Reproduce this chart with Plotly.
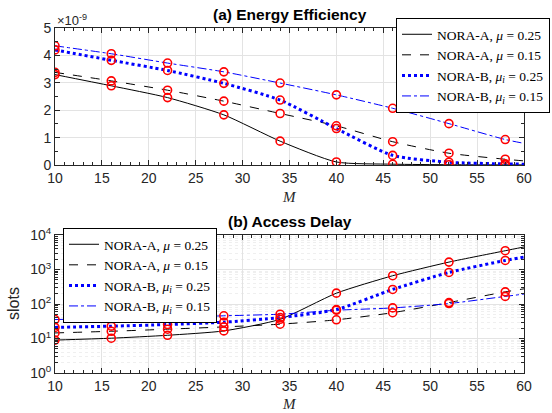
import plotly.graph_objects as go

# ---------------- data ----------------
M_markers = [10, 16, 22, 28, 34, 40, 46, 52, 58]
M_line = [10, 16, 22, 28, 34, 40, 46, 52, 58, 60]

# (a) Energy efficiency (x1e-9)
ee_A_025 = [3.30, 2.89, 2.46, 1.83, 0.87, 0.11, 0.03, 0.01, 0.005, 0.004]
ee_A_015 = [3.38, 3.07, 2.73, 2.33, 1.88, 1.43, 0.85, 0.43, 0.21, 0.15]
ee_B_025 = [4.20, 3.82, 3.45, 2.98, 2.37, 1.33, 0.35, 0.10, 0.04, 0.03]
ee_B_015 = [4.35, 4.06, 3.72, 3.40, 2.99, 2.56, 2.07, 1.51, 0.93, 0.79]

# (b) Access delay (slots)
ad_A_025 = [9.0, 10.2, 12.4, 16.6, 36, 206, 660, 1640, 3500, 4500]
ad_A_015 = [14.5, 16.2, 18.6, 21.7, 26, 34.8, 56, 110, 225, 275]
ad_B_025 = [21, 22.8, 25.4, 29.7, 40.5, 69, 264, 822, 1830, 2300]
ad_B_015 = [35.5, 38, 40.5, 45.5, 50.6, 66, 77, 103, 166, 194]

names = ["NORA-A, <i>μ</i> = 0.25", "NORA-A, <i>μ</i> = 0.15",
         "NORA-B, <i>μ<sub>i</sub></i> = 0.25", "NORA-B, <i>μ<sub>i</sub></i> = 0.15"]
styles = [dict(color="black", width=1, dash="solid"),
          dict(color="black", width=1, dash="dash"),
          dict(color="#0000ff", width=3, dash="dot"),
          dict(color="#0000ff", width=1, dash="dashdot")]

fig = go.Figure()

def add_series(ys_list, xaxis, yaxis, legend):
    for name, ys, st in zip(names, ys_list, styles):
        fig.add_trace(go.Scatter(x=M_line, y=ys, mode="lines", name=name,
                                 line=dict(color=st["color"], width=st["width"],
                                           dash=st["dash"], shape="spline", smoothing=0.6),
                                 xaxis=xaxis, yaxis=yaxis, legend=legend))
    for ys in ys_list:
        fig.add_trace(go.Scatter(x=M_markers, y=ys[:len(M_markers)], mode="markers",
                                 marker=dict(symbol="circle-open", color="red", size=8,
                                             line=dict(width=1.6, color="red")),
                                 showlegend=False, xaxis=xaxis, yaxis=yaxis,
                                 hoverinfo="skip"))

add_series([ee_A_025, ee_A_015, ee_B_025, ee_B_015], "x", "y", "legend")
add_series([ad_A_025, ad_A_015, ad_B_025, ad_B_015], "x2", "y2", "legend2")

W, H = 552, 413
tickfont = dict(family="Liberation Sans, Arial, sans-serif", size=14, color="#262626")
axis_common = dict(showline=True, linecolor="#262626", linewidth=1, mirror="allticks",
                   ticks="inside", ticklen=5, tickcolor="#262626", tickfont=tickfont,
                   gridcolor="#e3e3e3", zeroline=False)

xtop = dict(domain=[55 / W, 524 / W], range=[10, 60], tickvals=list(range(10, 61, 5)),
            minor=dict(ticks="inside", dtick=1, ticklen=3, tickcolor="#262626", showgrid=False),
            anchor="y", **axis_common)
ytop = dict(domain=[1 - 165 / H, 1 - 28 / H], range=[0, 5], tickvals=[0, 1, 2, 3, 4, 5],
            minor=dict(ticks="inside", dtick=0.5, ticklen=3, tickcolor="#262626", showgrid=False),
            anchor="x", **axis_common)
xbot = dict(domain=[55 / W, 524 / W], range=[10, 60], tickvals=list(range(10, 61, 5)),
            minor=dict(ticks="inside", dtick=1, ticklen=3, tickcolor="#262626", showgrid=False),
            anchor="y2", **axis_common)
ybot = dict(domain=[1 - 373 / H, 1 - 235 / H], type="log", range=[0, 4],
            tickvals=[1, 10, 100, 1000, 10000],
            ticktext=["10<sup>0</sup>", "10<sup>1</sup>", "10<sup>2</sup>",
                      "10<sup>3</sup>", "10<sup>4</sup>"],
            minor=dict(ticks="inside", tickvals=[m * 10 ** d for d in range(4) for m in range(2, 10)],
                       ticklen=3, tickcolor="#262626", showgrid=True,
                       gridcolor="#efefef", griddash="dot"),
            anchor="x2", **axis_common)

legend_font = dict(family="Liberation Serif, serif", size=13.5, color="black")
fig.update_layout(
    width=W, height=H, margin=dict(l=0, r=0, t=0, b=0, autoexpand=False),
    paper_bgcolor="white", plot_bgcolor="white",
    xaxis=xtop, yaxis=ytop, xaxis2=xbot, yaxis2=ybot,
    legend=dict(x=550 / W, y=1 - 18 / H, xanchor="right", yanchor="top",
                bgcolor="white", bordercolor="black", borderwidth=1,
                font=legend_font, tracegroupgap=0, itemwidth=30),
    legend2=dict(x=63 / W, y=1 - 228 / H, xanchor="left", yanchor="top",
                 bgcolor="white", bordercolor="black", borderwidth=1,
                 font=legend_font, tracegroupgap=0, itemwidth=30),
    showlegend=True,
)

ann_title = dict(family="Liberation Sans, Arial, sans-serif", size=15.5, color="black")
fig.add_annotation(text="<b>(a) Energy Efficiency</b>", x=289.5 / W, y=1 - 14 / H,
                   xref="paper", yref="paper", showarrow=False, font=ann_title,
                   xanchor="center", yanchor="middle")
fig.add_annotation(text="<b>(b) Access Delay</b>", x=289.5 / W, y=1 - 222 / H,
                   xref="paper", yref="paper", showarrow=False, font=ann_title,
                   xanchor="center", yanchor="middle")
fig.add_annotation(text="×10<sup>-9</sup>", x=55 / W, y=1 - 20 / H, xref="paper", yref="paper",
                   showarrow=False, xanchor="left", yanchor="middle",
                   font=dict(family="Liberation Sans, Arial, sans-serif", size=13, color="#262626"))
mfont = dict(family="Liberation Serif, DejaVu Serif, serif", size=15, color="#262626")
fig.add_annotation(text="<i>M</i>", x=289.5 / W, y=1 - 197 / H, xref="paper", yref="paper",
                   showarrow=False, xanchor="center", yanchor="middle", font=mfont)
fig.add_annotation(text="<i>M</i>", x=289.5 / W, y=1 - 404 / H, xref="paper", yref="paper",
                   showarrow=False, xanchor="center", yanchor="middle", font=mfont)
fig.add_annotation(text="slots", x=13 / W, y=1 - 304 / H, xref="paper", yref="paper",
                   showarrow=False, textangle=-90, xanchor="center", yanchor="middle",
                   font=dict(family="Liberation Sans, Arial, sans-serif", size=16, color="#262626"))

fig.write_html("out.html")
